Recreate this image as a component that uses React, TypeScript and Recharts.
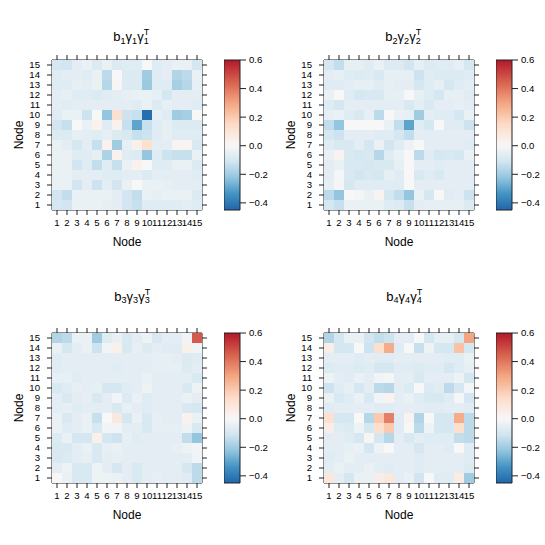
import { ScatterChart, Scatter, XAxis, YAxis, ReferenceArea } from "recharts";

const nodes = [1, 2, 3, 4, 5, 6, 7, 8, 9, 10, 11, 12, 13, 14, 15];
const keyTicks = [-0.4, -0.2, 0, 0.2, 0.4, 0.6];
const keyMin = -0.45;
const keyMax = 0.6;

// every matrix: rows from node 15 (top) down to node 1, columns node 1..15
const b1Rows = [
  [-0.1, -0.11, -0.06, -0.04, -0.08, -0.04, -0.08, -0.07, -0.07, 0.0, -0.07, -0.06, -0.04, -0.04, -0.1],
  [-0.07, -0.06, -0.06, -0.07, -0.04, -0.15, 0.0, -0.08, -0.08, -0.2, -0.07, -0.06, -0.17, -0.15, -0.04],
  [-0.07, -0.07, -0.05, -0.06, -0.04, -0.16, 0.01, -0.08, -0.08, -0.21, -0.07, -0.07, -0.19, -0.16, -0.05],
  [-0.06, -0.05, -0.07, -0.07, -0.08, -0.07, -0.06, -0.05, -0.04, -0.04, -0.05, -0.1, -0.06, -0.06, -0.06],
  [-0.06, -0.07, -0.06, -0.06, -0.06, -0.06, -0.06, -0.06, -0.07, -0.04, -0.08, -0.05, -0.06, -0.06, -0.07],
  [-0.07, -0.04, -0.04, -0.12, 0.0, -0.22, 0.12, -0.12, -0.13, -0.43, -0.05, -0.07, -0.2, -0.19, 0.0],
  [-0.11, -0.13, 0.0, -0.04, 0.03, -0.07, 0.03, -0.13, -0.3, -0.13, -0.07, -0.05, -0.08, -0.08, -0.08],
  [-0.08, -0.08, -0.05, -0.06, -0.07, -0.05, -0.08, -0.09, -0.13, -0.12, -0.07, -0.05, -0.07, -0.07, -0.07],
  [-0.04, -0.06, -0.1, -0.06, -0.13, 0.03, -0.2, -0.05, 0.04, 0.12, -0.06, -0.06, 0.02, 0.01, -0.09],
  [-0.04, -0.04, -0.07, -0.07, -0.05, -0.18, 0.03, -0.07, -0.08, -0.22, -0.07, -0.12, -0.13, -0.13, -0.04],
  [-0.04, -0.04, -0.11, -0.07, -0.14, -0.07, -0.13, -0.04, 0.03, 0.0, -0.07, -0.07, -0.04, -0.04, -0.08],
  [-0.04, -0.04, -0.06, -0.06, -0.06, -0.07, -0.07, -0.06, -0.06, -0.08, -0.06, -0.06, -0.06, -0.06, -0.07],
  [-0.04, -0.04, -0.11, -0.06, -0.12, -0.06, -0.11, -0.04, 0.0, -0.04, -0.04, -0.05, -0.06, -0.06, -0.06],
  [-0.11, -0.14, -0.04, -0.04, -0.04, -0.04, -0.06, -0.11, -0.14, -0.04, -0.05, -0.04, -0.04, -0.04, -0.08],
  [-0.1, -0.11, -0.04, -0.04, -0.04, -0.05, -0.06, -0.11, -0.13, -0.07, -0.07, -0.07, -0.07, -0.06, -0.07],
];

const b2Rows = [
  [-0.1, -0.14, -0.05, -0.05, -0.07, -0.04, -0.08, -0.08, -0.11, -0.05, -0.08, -0.07, -0.07, -0.05, -0.1],
  [-0.06, -0.05, -0.07, -0.08, -0.07, -0.09, -0.05, -0.05, -0.05, -0.12, -0.07, -0.08, -0.08, -0.08, -0.07],
  [-0.07, -0.07, -0.06, -0.05, -0.05, -0.07, -0.05, -0.06, -0.06, -0.1, -0.07, -0.05, -0.1, -0.07, -0.06],
  [-0.04, 0.0, -0.07, -0.1, -0.09, -0.09, -0.05, -0.05, 0.0, -0.05, -0.07, -0.1, -0.05, -0.05, -0.07],
  [-0.07, -0.1, -0.06, -0.06, -0.06, -0.06, -0.06, -0.06, -0.09, -0.06, -0.09, -0.06, -0.06, -0.05, -0.06],
  [-0.05, -0.04, -0.07, -0.09, -0.05, -0.15, 0.0, -0.04, -0.05, -0.2, -0.06, -0.07, -0.07, -0.1, -0.04],
  [-0.14, -0.22, 0.0, 0.0, 0.0, 0.0, -0.04, -0.14, -0.3, -0.07, -0.1, 0.0, -0.07, -0.07, -0.12],
  [-0.1, -0.12, -0.06, -0.06, -0.06, -0.07, -0.07, -0.1, -0.14, -0.06, -0.06, -0.06, -0.06, -0.06, -0.06],
  [-0.07, -0.09, -0.09, -0.06, -0.1, -0.04, -0.11, -0.07, -0.03, 0.0, -0.06, -0.06, -0.06, -0.06, -0.07],
  [-0.04, 0.02, -0.09, -0.1, -0.09, -0.16, -0.07, -0.04, 0.0, -0.15, -0.07, -0.1, -0.09, -0.1, -0.04],
  [-0.06, -0.04, -0.09, -0.09, -0.1, -0.09, -0.09, -0.05, 0.0, -0.06, -0.06, -0.07, -0.06, -0.06, -0.06],
  [-0.06, -0.01, -0.09, -0.11, -0.09, -0.1, -0.05, -0.07, 0.0, -0.09, -0.07, -0.09, -0.06, -0.06, -0.06],
  [-0.05, -0.01, -0.1, -0.07, -0.07, -0.07, -0.07, -0.07, 0.0, -0.06, -0.06, -0.06, -0.06, -0.06, -0.06],
  [-0.15, -0.22, 0.0, -0.01, -0.04, 0.02, -0.1, -0.14, -0.22, -0.04, -0.1, 0.0, -0.07, -0.06, -0.12],
  [-0.1, -0.13, -0.04, -0.04, -0.04, -0.04, -0.07, -0.08, -0.13, -0.06, -0.05, -0.05, -0.05, -0.05, -0.08],
];

const b3Rows = [
  [-0.17, -0.15, -0.04, -0.04, -0.2, -0.07, -0.04, -0.09, -0.06, -0.03, -0.09, -0.06, -0.06, -0.02, 0.46],
  [-0.04, -0.1, -0.06, -0.04, -0.12, -0.02, 0.04, -0.09, -0.05, -0.08, -0.06, -0.07, -0.07, 0.04, -0.02],
  [-0.07, -0.06, -0.06, -0.06, -0.06, -0.06, -0.06, -0.06, -0.06, -0.06, -0.05, -0.05, -0.06, -0.08, -0.07],
  [-0.07, -0.06, -0.06, -0.06, -0.06, -0.06, -0.07, -0.06, -0.06, -0.06, -0.05, -0.05, -0.05, -0.08, -0.06],
  [-0.05, -0.05, -0.07, -0.06, -0.06, -0.06, -0.06, -0.06, -0.06, -0.04, -0.06, -0.06, -0.06, -0.06, -0.09],
  [-0.09, -0.07, -0.05, -0.06, -0.05, -0.1, -0.1, -0.07, -0.06, -0.03, -0.06, -0.06, -0.06, -0.09, -0.03],
  [-0.06, -0.09, -0.06, -0.05, -0.09, -0.06, -0.02, -0.08, -0.04, -0.07, -0.06, -0.06, -0.06, -0.04, -0.06],
  [-0.06, -0.05, -0.07, -0.06, -0.06, -0.06, -0.09, -0.05, -0.06, -0.07, -0.06, -0.06, -0.06, -0.09, -0.1],
  [-0.04, -0.09, -0.06, -0.04, -0.13, 0.0, 0.08, -0.1, -0.04, -0.09, -0.05, -0.06, -0.06, 0.03, -0.04],
  [-0.04, -0.07, -0.06, -0.04, -0.09, -0.02, -0.02, -0.06, -0.06, -0.09, -0.05, -0.05, -0.05, -0.03, -0.09],
  [-0.08, -0.04, -0.1, -0.1, 0.04, -0.1, -0.12, -0.05, -0.07, -0.06, -0.06, -0.06, -0.06, -0.14, -0.22],
  [-0.09, -0.09, -0.06, -0.04, -0.09, -0.05, -0.04, -0.06, -0.06, -0.06, -0.06, -0.06, -0.05, -0.03, -0.02],
  [-0.09, -0.08, -0.06, -0.05, -0.09, -0.06, -0.05, -0.06, -0.06, -0.06, -0.06, -0.06, -0.06, -0.06, -0.02],
  [-0.06, -0.03, -0.09, -0.09, -0.03, -0.06, -0.1, -0.06, -0.09, -0.06, -0.06, -0.06, -0.06, -0.1, -0.15],
  [0.0, -0.04, -0.09, -0.09, -0.03, -0.03, -0.04, -0.06, -0.09, -0.06, -0.05, -0.06, -0.06, -0.07, -0.15],
];

const b4Rows = [
  [-0.17, -0.1, -0.04, -0.04, -0.11, -0.14, -0.12, -0.06, -0.06, 0.0, -0.1, -0.05, -0.05, -0.1, 0.3],
  [0.05, -0.1, -0.1, 0.0, -0.12, 0.13, 0.28, -0.07, 0.0, -0.13, -0.03, -0.1, -0.1, 0.22, -0.1],
  [-0.06, -0.06, -0.06, -0.07, -0.06, -0.07, -0.07, -0.06, -0.06, -0.06, -0.06, -0.06, -0.07, -0.07, -0.04],
  [-0.08, -0.07, -0.07, -0.08, -0.07, -0.1, -0.1, -0.07, -0.07, -0.08, -0.07, -0.07, -0.1, -0.07, -0.05],
  [-0.03, -0.06, -0.07, -0.04, -0.06, -0.02, -0.01, -0.06, -0.06, -0.09, -0.06, -0.06, -0.06, -0.03, -0.1],
  [-0.12, -0.07, -0.05, -0.1, -0.06, -0.15, -0.16, -0.06, -0.08, 0.0, -0.08, -0.07, -0.15, -0.1, -0.01],
  [-0.04, -0.09, -0.07, -0.04, -0.09, -0.02, 0.02, -0.06, -0.04, -0.07, -0.09, -0.09, -0.07, -0.01, -0.1],
  [-0.07, -0.06, -0.06, -0.06, -0.06, -0.07, -0.07, -0.06, -0.06, -0.06, -0.07, -0.07, -0.06, -0.06, -0.07],
  [0.12, -0.1, -0.1, 0.0, -0.16, 0.2, 0.38, -0.07, 0.02, -0.17, 0.0, -0.1, -0.1, 0.28, -0.15],
  [0.05, -0.07, -0.08, -0.03, -0.1, 0.13, 0.2, -0.07, 0.0, -0.15, -0.03, -0.1, -0.1, 0.13, -0.15],
  [-0.06, -0.06, -0.07, -0.1, 0.01, -0.1, -0.16, -0.06, -0.09, -0.06, -0.07, -0.07, -0.07, -0.14, -0.15],
  [-0.06, -0.06, -0.05, -0.04, -0.1, -0.03, 0.0, -0.06, -0.06, -0.1, -0.06, -0.06, -0.07, 0.0, -0.07],
  [-0.07, -0.06, -0.04, -0.06, -0.06, -0.06, -0.06, -0.06, -0.06, -0.07, -0.06, -0.06, -0.06, -0.06, -0.07],
  [-0.06, -0.04, -0.06, -0.06, -0.04, -0.06, -0.07, -0.06, -0.06, -0.07, -0.06, -0.06, -0.06, -0.06, -0.08],
  [0.08, -0.06, -0.1, -0.04, -0.04, 0.05, 0.08, -0.06, -0.04, -0.11, 0.0, -0.07, -0.07, 0.06, -0.2],
];

// RdBu ramp, white at zero
const palette: [number, string][] = [
  [-0.45, "#2166AC"],
  [-0.3375, "#4393C3"],
  [-0.225, "#92C5DE"],
  [-0.1125, "#D1E5F0"],
  [0, "#F7F7F7"],
  [0.15, "#FDDBC7"],
  [0.3, "#F4A582"],
  [0.45, "#D6604D"],
  [0.6, "#B2182B"],
];

const FONT = '"Liberation Sans", Arial, Helvetica, sans-serif';
const INK = "#222";
const CELL = 10;

const rgb = (h: string) => [1, 3, 5].map((i) => parseInt(h.slice(i, i + 2), 16));

function colour(v: number) {
  const x = Math.max(keyMin, Math.min(keyMax, v));
  for (let i = 1; i < palette.length; i++) {
    const [v1, c1] = palette[i];
    if (x <= v1) {
      const [v0, c0] = palette[i - 1];
      const t = (x - v0) / (v1 - v0);
      const a = rgb(c0), b = rgb(c1);
      return `rgb(${a.map((c, k) => Math.round(c + (b[k] - c) * t)).join(",")})`;
    }
  }
  return palette[palette.length - 1][1];
}

const toCells = (rows: number[][]) =>
  rows.flatMap((row, i) => row.map((v, j) => ({ x: nodes[j], y: nodes[14 - i], v })));

const Blank = () => <g />;

const Cell = (p: any) => (
  <rect
    x={p.cx - CELL / 2}
    y={p.cy - CELL / 2}
    width={CELL}
    height={CELL}
    fill={colour(p.payload.v)}
    shapeRendering="crispEdges"
  />
);

const axisBits = {
  type: "number" as const,
  domain: [0.5, 15.5],
  ticks: nodes,
  interval: 0 as const,
  allowDataOverflow: true,
  axisLine: { stroke: INK },
  tickLine: { stroke: INK },
  tickSize: 5,
};

function Panel({ left, top, rows }: { left: number; top: number; rows: number[][] }) {
  const data = toCells(rows);
  return (
    <div style={{ position: "absolute", left, top }}>
      <ScatterChart width={215} height={206} margin={{ top: 4, right: 7, bottom: 6, left: 0 }}>
        <Scatter xAxisId="b" yAxisId="l" data={data} dataKey="y" shape={Cell} isAnimationActive={false} />
        <Scatter xAxisId="t" yAxisId="r" data={data} dataKey="y" shape={Blank} isAnimationActive={false} />
        <XAxis
          xAxisId="b"
          dataKey="x"
          {...axisBits}
          height={40}
          tickMargin={4}
          tick={{ fontSize: 9.6, fill: "#000" }}
          label={{ value: "Node", position: "insideBottom", offset: 4, fontSize: 12, fill: "#000" }}
        />
        <XAxis xAxisId="t" dataKey="x" orientation="top" {...axisBits} height={6} tick={Blank} />
        <YAxis
          yAxisId="l"
          dataKey="y"
          {...axisBits}
          width={52}
          tickMargin={7}
          tick={{ fontSize: 9.6, fill: "#000" }}
          label={{
            value: "Node",
            angle: -90,
            position: "insideLeft",
            offset: 19,
            fontSize: 12,
            fill: "#000",
            style: { textAnchor: "middle" },
          }}
        />
        <YAxis yAxisId="r" dataKey="y" orientation="right" {...axisBits} width={6} tick={Blank} />
      </ScatterChart>
    </div>
  );
}

const keyLabel = (v: number) => (v < 0 ? "\u2212" : "") + Math.abs(v).toFixed(1);

function Key({ left, top }: { left: number; top: number }) {
  const pts = keyTicks.map((t) => ({ x: 0.5, y: t }));
  return (
    <div style={{ position: "absolute", left, top }}>
      <ScatterChart width={50} height={160} margin={{ top: 5, right: 0, bottom: 5, left: 0 }}>
        <XAxis type="number" dataKey="x" domain={[0, 1]} hide />
        <YAxis
          type="number"
          dataKey="y"
          orientation="right"
          domain={[keyMin, keyMax]}
          ticks={keyTicks}
          interval={0}
          allowDataOverflow
          width={34}
          tickSize={6}
          tickMargin={3}
          axisLine={false}
          tickLine={{ stroke: INK }}
          tick={{ fontSize: 9.6, fill: "#000" }}
          tickFormatter={keyLabel}
        />
        <Scatter data={pts} shape={Blank} isAnimationActive={false} />
        <ReferenceArea
          x1={0}
          x2={1}
          y1={keyMin}
          y2={keyMax}
          fill="url(#rdbuKey)"
          fillOpacity={1}
          stroke={INK}
          strokeOpacity={1}
          ifOverflow="visible"
        />
      </ScatterChart>
    </div>
  );
}

const Sub = ({ c }: { c: string }) => (
  <span style={{ fontSize: "0.7em", position: "relative", top: "0.3em" }}>{c}</span>
);

const SubSup = ({ sub, sup }: { sub: string; sup: string }) => (
  <span style={{ fontSize: "0.7em", position: "relative" }}>
    <span style={{ position: "relative", top: "0.3em" }}>{sub}</span>
    <span style={{ position: "absolute", left: 0, top: "-0.75em" }}>{sup}</span>
  </span>
);

function Title({ cx, top, k }: { cx: number; top: number; k: string }) {
  return (
    <div
      style={{
        position: "absolute",
        left: cx - 60,
        top,
        width: 120,
        textAlign: "center",
        fontSize: 13,
        lineHeight: "13px",
        whiteSpace: "nowrap",
      }}
    >
      b<Sub c={k} />γ<Sub c={k} />γ<SubSup sub={k} sup="T" />
    </div>
  );
}

export default function App() {
  return (
    <div
      style={{
        position: "absolute",
        left: 0,
        top: 0,
        width: 545,
        height: 545,
        background: "#fff",
        fontFamily: FONT,
        color: "#000",
      }}
    >
      <svg width={0} height={0} style={{ position: "absolute" }}>
        <defs>
          <linearGradient id="rdbuKey" x1="0" y1="0" x2="0" y2="1">
            {palette
              .slice()
              .reverse()
              .map(([v, c]) => (
                <stop key={v} offset={(keyMax - v) / (keyMax - keyMin)} stopColor={c} />
              ))}
          </linearGradient>
        </defs>
      </svg>

      <Title cx={131} top={30} k="1" />
      <Title cx={403} top={30} k="2" />
      <Title cx={132} top={289.5} k="3" />
      <Title cx={404} top={289.5} k="4" />

      <Panel left={0} top={50} rows={b1Rows} />
      <Panel left={272} top={50} rows={b2Rows} />
      <Panel left={0} top={323} rows={b3Rows} />
      <Panel left={272} top={323} rows={b4Rows} />

      <Key left={224} top={55} />
      <Key left={496} top={55} />
      <Key left={224} top={328} />
      <Key left={496} top={328} />
    </div>
  );
}
